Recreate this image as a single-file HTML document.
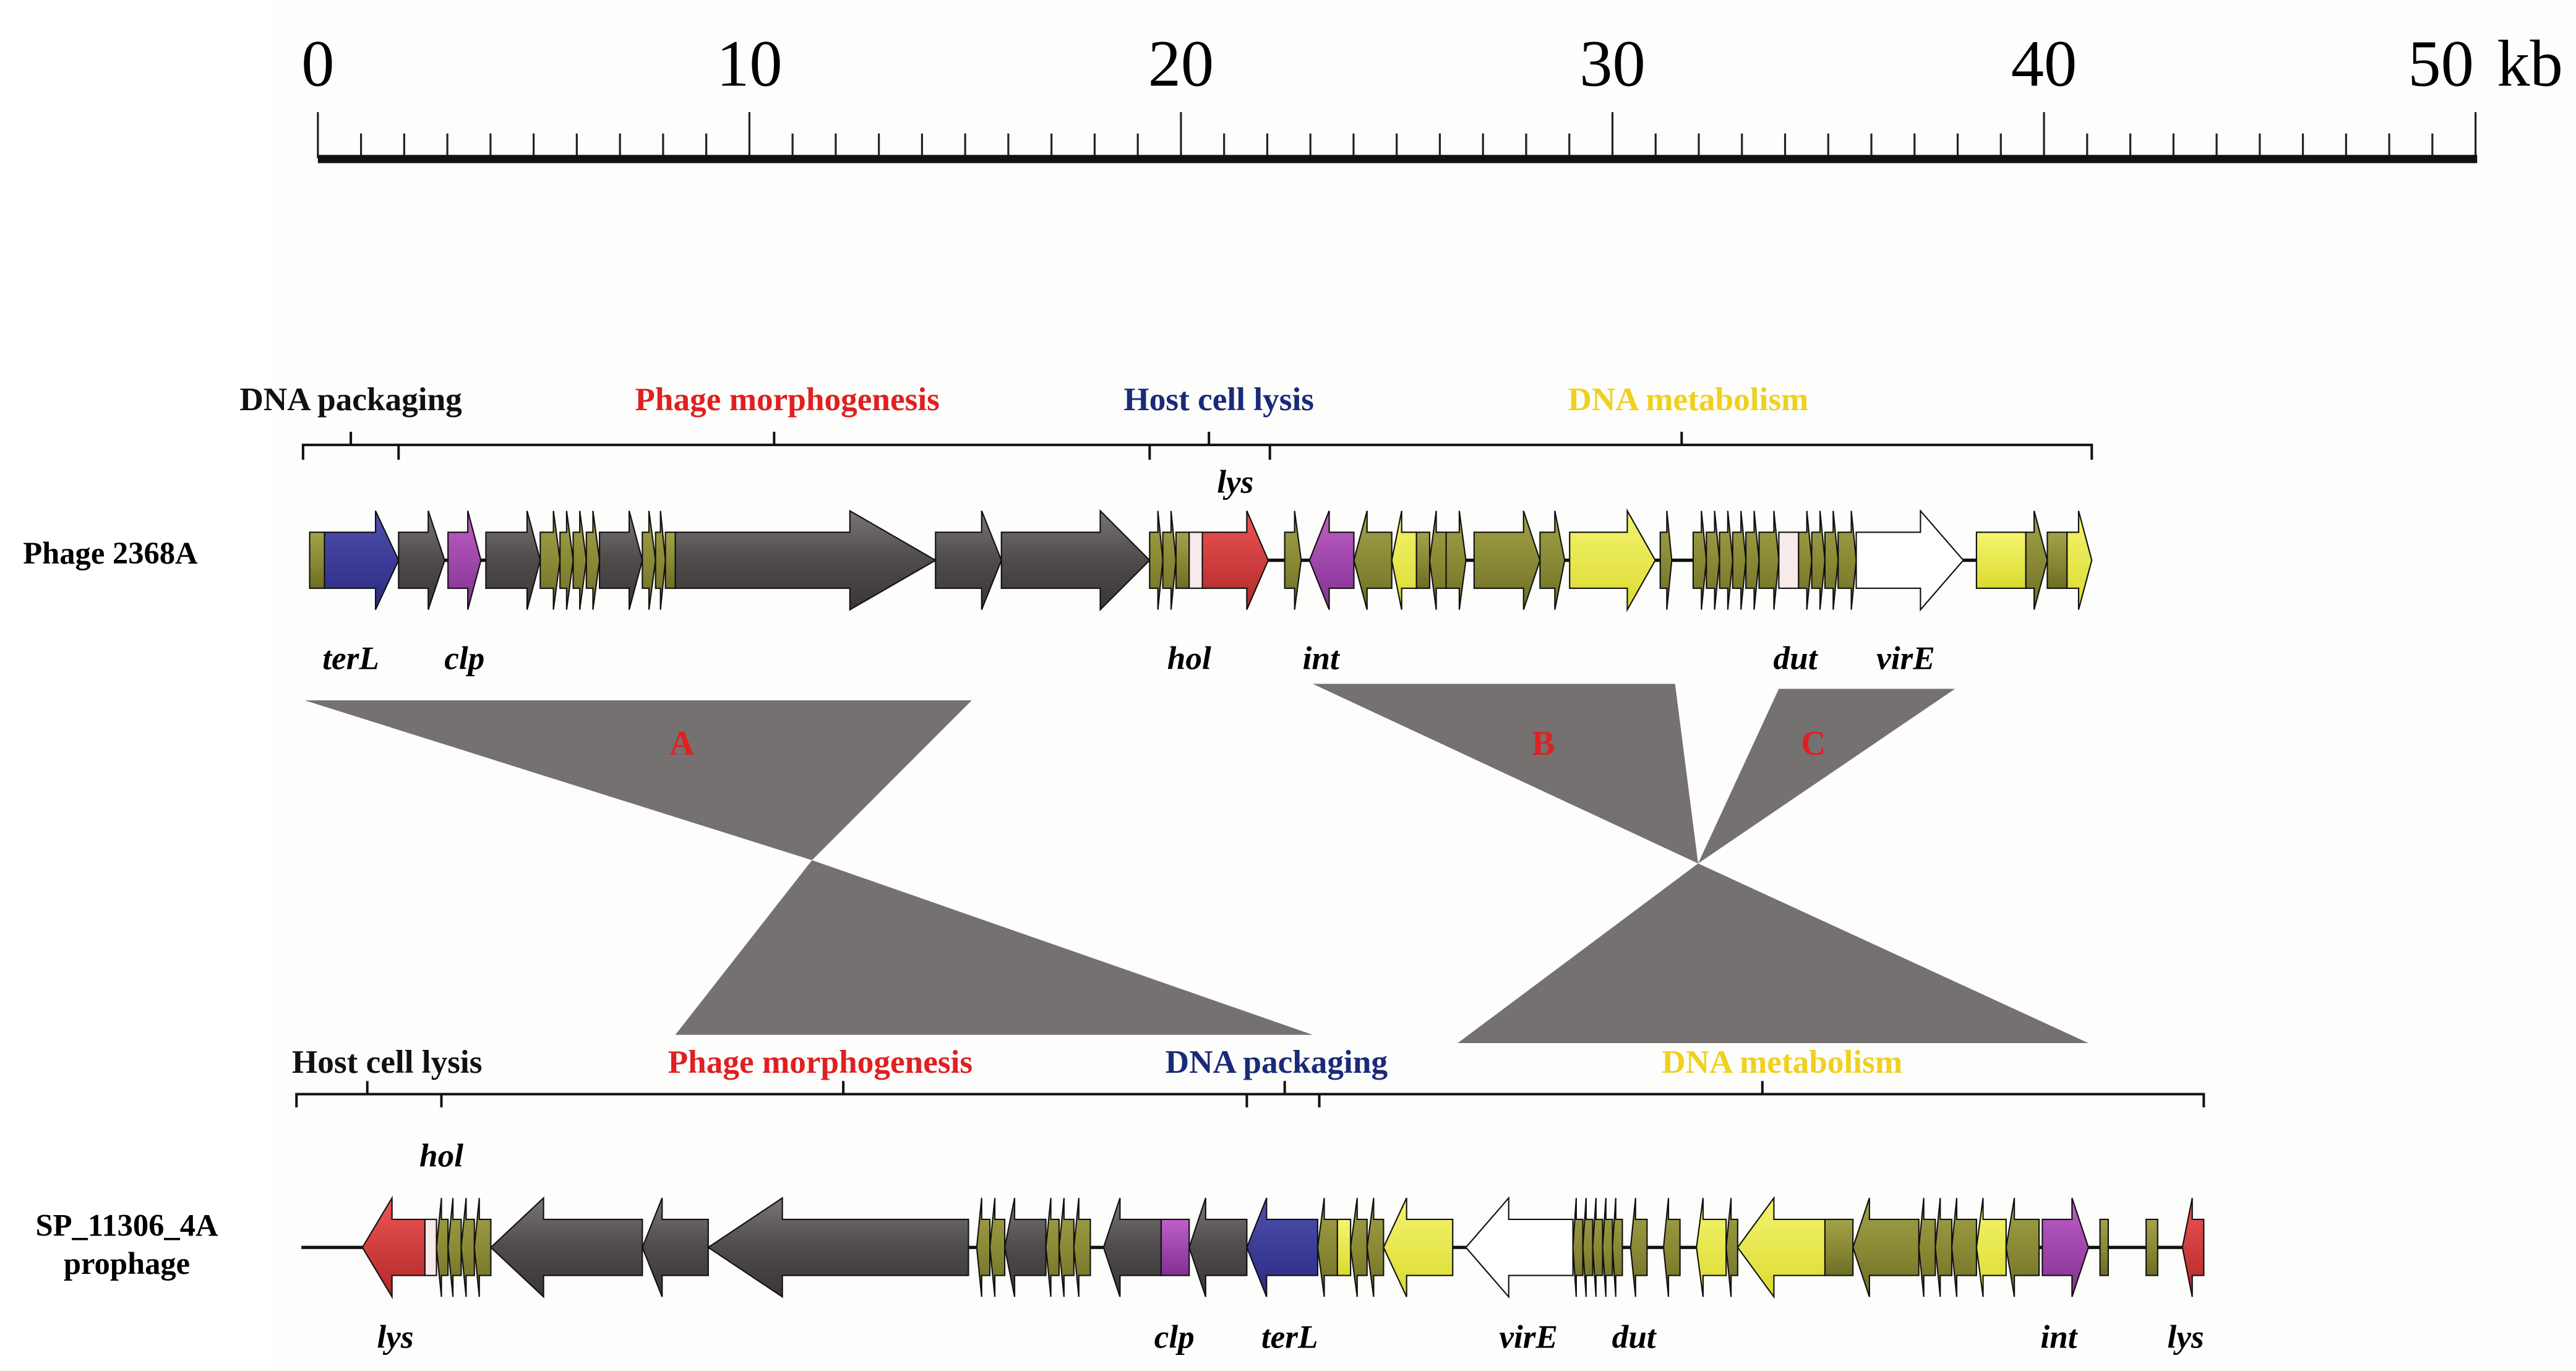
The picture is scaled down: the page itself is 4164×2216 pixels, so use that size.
<!DOCTYPE html>
<html><head><meta charset="utf-8"><style>
html,body{margin:0;padding:0;background:#fff}
svg{display:block}
text{font-family:"Liberation Serif",serif}
</style></head><body>
<svg id="s" width="4164" height="2216" viewBox="0 0 1564 832" preserveAspectRatio="none" xmlns="http://www.w3.org/2000/svg">
<defs>
<linearGradient id="gO" x1="0" y1="0" x2="0" y2="1"><stop offset="0" stop-color="#a3a34a"/><stop offset="0.5" stop-color="#8a8a36"/><stop offset="1" stop-color="#6d6d25"/></linearGradient>
<linearGradient id="gG" x1="0" y1="0" x2="0" y2="1"><stop offset="0" stop-color="#7a7575"/><stop offset="0.5" stop-color="#4f4b4b"/><stop offset="1" stop-color="#3a3636"/></linearGradient>
<linearGradient id="gB" x1="0" y1="0" x2="0" y2="1"><stop offset="0" stop-color="#5050b0"/><stop offset="1" stop-color="#2a2a80"/></linearGradient>
<linearGradient id="gM" x1="0" y1="0" x2="0" y2="1"><stop offset="0" stop-color="#c060c8"/><stop offset="1" stop-color="#803090"/></linearGradient>
<linearGradient id="gR" x1="0" y1="0" x2="0" y2="1"><stop offset="0" stop-color="#ee5555"/><stop offset="1" stop-color="#b02828"/></linearGradient>
<linearGradient id="gY" x1="0" y1="0" x2="0" y2="1"><stop offset="0" stop-color="#f5f570"/><stop offset="1" stop-color="#dada30"/></linearGradient>
</defs>
<rect x="165" y="0" width="1399" height="832" fill="#fdfdfc"/>
<g id="scale"></g>
<g font-size="40" text-anchor="middle">
<text x="193" y="52">0</text><text x="455" y="52">10</text><text x="717" y="52">20</text><text x="979" y="52">30</text><text x="1241" y="52">40</text><text x="1482" y="52">50</text><text x="1536" y="52">kb</text>
</g>
<rect x="193" y="94" width="1311" height="5" fill="#111"/>

<g fill="#757171">
<polygon points="185,425 590,425 493,522"/>
<polygon points="493,522 410,628 797,628"/>
<polygon points="797,415 1017,415 1031,524"/>
<polygon points="1080,418 1187,418 1031,524"/>
<polygon points="1031,524 885,633 1268,633"/>
</g>
<g fill="#e02020" font-weight="bold" font-size="21" text-anchor="middle">
<text x="414" y="458">A</text><text x="937" y="458">B</text><text x="1101" y="458">C</text>
</g>

<g font-weight="bold" font-size="20" text-anchor="middle">
<text x="213" y="249" fill="#111">DNA packaging</text>
<text x="478" y="249" fill="#e02020">Phage morphogenesis</text>
<text x="740" y="249" fill="#1a2a7a">Host cell lysis</text>
<text x="1025" y="249" fill="#f0d020">DNA metabolism</text>
<text x="235" y="651" fill="#111">Host cell lysis</text>
<text x="498" y="651" fill="#e02020">Phage morphogenesis</text>
<text x="775" y="651" fill="#1a2a7a">DNA packaging</text>
<text x="1082" y="651" fill="#f0d020">DNA metabolism</text>
</g>
<g fill="none" stroke="#111" stroke-width="1.5">
<path d="M184,279 L184,270 L1270,270 L1270,279 M242,279 L242,270 M698,279 L698,270 M771,279 L771,270 M213,270 L213,262 M470,270 L470,262 M734,270 L734,262 M1021,270 L1021,262"/>
<path d="M180,672 L180,664 L1338,664 L1338,672 M268,672 L268,664 M757,672 L757,664 M801,672 L801,664 M223,664 L223,656 M512,664 L512,656 M780,664 L780,656 M1070,664 L1070,656"/>
</g>

<g font-weight="bold" font-size="19">
<text x="14" y="342">Phage 2368A</text>
<text x="77" y="750" text-anchor="middle">SP_11306_4A</text>
<text x="77" y="773" text-anchor="middle">prophage</text>
</g>

<line x1="188" y1="340" x2="1270" y2="340" stroke="#111" stroke-width="2"/>
<line x1="183" y1="757" x2="1338" y2="757" stroke="#111" stroke-width="2"/>
<g id="genes" stroke="#111" stroke-width="0.8"></g>

<g font-weight="bold" font-style="italic" font-size="20" text-anchor="middle">
<text x="213" y="406">terL</text><text x="282" y="406">clp</text><text x="722" y="406">hol</text><text x="802" y="406">int</text><text x="1090" y="406">dut</text><text x="1157" y="406">virE</text><text x="750" y="299">lys</text>
<text x="268" y="708">hol</text><text x="240" y="818">lys</text><text x="713" y="818">clp</text><text x="783" y="818">terL</text><text x="928" y="818">virE</text><text x="992" y="818">dut</text><text x="1250" y="818">int</text><text x="1327" y="818">lys</text>
</g>
</svg>
<script>
(function(){
var NS="http://www.w3.org/2000/svg";
var sc=document.getElementById("scale");
for(var i=0;i<=50;i++){var x=193+i*26.2;var l=document.createElementNS(NS,"line");l.setAttribute("x1",x);l.setAttribute("x2",x);l.setAttribute("y1",i%10==0?68:81);l.setAttribute("y2",96);l.setAttribute("stroke","#222");l.setAttribute("stroke-width","1.2");sc.appendChild(l);}
var G=document.getElementById("genes");
var C={o:"url(#gO)",g:"url(#gG)",b:"url(#gB)",m:"url(#gM)",r:"url(#gR)",y:"url(#gY)",w:"#fff",p:"#f6eaea"};
function gene(cy,x1,x2,d,c,h){var t=cy-17,b=cy+17,T=cy-30,B=cy+30;var w=x2-x1;if(h===undefined)h=Math.min(w*0.5,13);var p;
if(d=="r"){p=[[x1,t],[x2-h,t],[x2-h,T],[x2,cy],[x2-h,B],[x2-h,b],[x1,b]];}
else if(d=="l"){p=[[x2,t],[x1+h,t],[x1+h,T],[x1,cy],[x1+h,B],[x1+h,b],[x2,b]];}
else{p=[[x1,t],[x2,t],[x2,b],[x1,b]];}
var e=document.createElementNS(NS,"polygon");e.setAttribute("points",p.map(function(q){return q.join(",")}).join(" "));e.setAttribute("fill",C[c]);G.appendChild(e);}
var trackA=[[188,197,"n","o"],[197,242,"r","b",14],[242,270,"r","g",10],[272,292,"r","m",8],[295,328,"r","g",8],[328,340,"r","o",4],[340,348,"r","o",4],[348,356,"r","o",4],[356,364,"r","o",4],[364,390,"r","g",8],[390,398,"r","o",4],[398,404,"r","o",3],[404,410,"n","o"],[410,568,"r","g",52],[568,608,"r","g",12],[608,698,"r","g",30],[698,706,"r","o",3],[706,714,"r","o",3],[714,722,"n","o"],[722,730,"n","p"],[730,770,"r","r",13],[780,790,"r","o",4],[795,822,"l","m",12],[822,845,"l","o",8],[845,860,"l","y",6],[860,868,"n","o"],[868,878,"l","o",4],[878,890,"r","o",4],[895,935,"r","o",10],[935,950,"r","o",6],[953,1005,"r","y",17],[1008,1015,"r","o",3],[1028,1036,"r","o",3],[1036,1044,"r","o",3],[1044,1052,"r","o",3],[1052,1060,"r","o",3],[1060,1068,"r","o",3],[1068,1080,"r","o",3],[1080,1092,"n","p"],[1092,1100,"r","o",3],[1100,1108,"r","o",3],[1108,1116,"r","o",3],[1116,1127,"r","o",3],[1127,1192,"r","w",26],[1200,1230,"n","y"],[1230,1243,"r","o",8],[1243,1255,"n","o"],[1255,1270,"r","y",8]];
var trackB=[[220,258,"l","r",18],[258,265,"n","p"],[265,272,"l","o",3],[272,280,"l","o",3],[280,288,"l","o",3],[288,298,"l","o",3],[298,390,"l","g",32],[390,430,"l","g",12],[430,588,"l","g",45],[593,601,"l","o",3],[601,610,"l","o",3],[610,635,"l","g",6],[635,643,"l","o",3],[643,652,"l","o",3],[652,662,"l","o",3],[670,705,"l","g",10],[705,722,"n","m"],[722,757,"l","g",10],[757,800,"l","b",12],[800,812,"l","o",4],[812,820,"n","y"],[820,830,"l","o",4],[830,840,"l","o",4],[840,882,"l","y",14],[890,955,"l","w",26],[955,961,"l","o",2],[961,967,"l","o",2],[967,973,"l","o",2],[973,979,"l","o",2],[979,985,"l","o",2],[990,1000,"l","o",3],[1010,1020,"l","o",3],[1030,1048,"l","y",4],[1048,1055,"l","o",3],[1055,1108,"l","y",22],[1108,1125,"n","o"],[1125,1165,"l","o",10],[1165,1175,"l","o",3],[1175,1185,"l","o",3],[1185,1200,"l","o",3],[1200,1218,"l","y",4],[1218,1238,"l","o",5],[1240,1268,"r","m",10],[1275,1280,"n","o"],[1303,1310,"n","o"],[1325,1338,"l","r",6]];
trackA.forEach(function(a){gene(340,a[0],a[1],a[2],a[3],a[4]);});
trackB.forEach(function(a){gene(757,a[0],a[1],a[2],a[3],a[4]);});
})();
</script>
</body></html>
